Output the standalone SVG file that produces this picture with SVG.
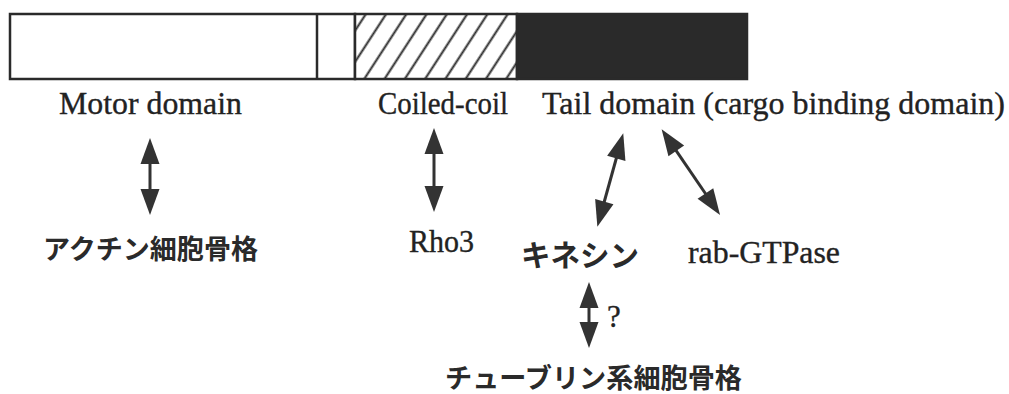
<svg xmlns="http://www.w3.org/2000/svg" width="1009" height="394" viewBox="0 0 1009 394">
  <style>
    .en { font-family: "Liberation Serif", "Times New Roman", serif; font-size: 31px; fill: #222; stroke: #222; stroke-width: 0.35; }
    .jp { font-family: "Noto Sans CJK JP", "Noto Sans CJK SC", sans-serif; font-weight: 700; fill: #2a2a2a; }
    .box { stroke: #2a2a2a; stroke-width: 2.5; }
    .conn { stroke: #333; stroke-width: 3; fill: none; marker-start: url(#head); marker-end: url(#head); }
  </style>
  <defs>
    <pattern id="hatch" patternUnits="userSpaceOnUse" width="17" height="17" patternTransform="rotate(33)">
      <rect width="17" height="17" fill="#fff"/>
      <line x1="8.5" y1="-1" x2="8.5" y2="18" stroke="#2a2a2a" stroke-width="2"/>
    </pattern>
    <marker id="head" markerUnits="userSpaceOnUse" markerWidth="27" markerHeight="20" refX="3" refY="9.5" orient="auto-start-reverse" overflow="visible">
      <path d="M0,0 L26,9.5 L0,19 z" fill="#333"/>
    </marker>
  </defs>

  <g id="bar">
    <rect id="motor-seg" class="box" x="10" y="14" width="345" height="65" fill="#fff"/>
    <line class="box" x1="317" y1="14" x2="317" y2="79"/>
    <rect id="coil-seg" class="box" x="355" y="14" width="162" height="65" fill="url(#hatch)"/>
    <rect id="tail-seg" class="box" x="517" y="14" width="230" height="65" fill="#2a2a2a"/>
  </g>

  <g id="connectors">
    <line class="conn" x1="150" y1="161" x2="150" y2="192"/>
    <line class="conn" x1="434" y1="151" x2="434" y2="189"/>
    <line class="conn" x1="617.1" y1="155.5" x2="603.5" y2="204.5"/>
    <line class="conn" x1="674.6" y1="148.3" x2="707.1" y2="196"/>
    <line class="conn" x1="589" y1="305" x2="589" y2="325"/>
  </g>

  <g id="motor-domain"><text class="en" x="59" y="114" textLength="183" lengthAdjust="spacingAndGlyphs">Motor domain</text></g>
  <g id="coiled-coil"><text class="en" x="378" y="114" textLength="130" lengthAdjust="spacingAndGlyphs">Coiled-coil</text></g>
  <g id="tail-domain"><text class="en" x="542" y="114" textLength="463" lengthAdjust="spacingAndGlyphs">Tail domain (cargo binding domain)</text></g>
  <g id="actin"><text class="jp" x="43" y="259" font-size="27" textLength="215" lengthAdjust="spacingAndGlyphs">アクチン細胞骨格</text></g>
  <g id="rho3"><text class="en" x="409" y="252" textLength="65" lengthAdjust="spacingAndGlyphs">Rho3</text></g>
  <g id="kinesin"><text class="jp" x="521" y="266" font-size="30" textLength="118" lengthAdjust="spacingAndGlyphs">キネシン</text></g>
  <g id="rab"><text class="en" x="688" y="263" textLength="152" lengthAdjust="spacingAndGlyphs">rab-GTPase</text></g>
  <g id="question"><text class="en" x="607" y="327" font-size="28">?</text></g>
  <g id="tubulin"><text class="jp" x="445" y="388" font-size="27" textLength="297" lengthAdjust="spacingAndGlyphs">チューブリン系細胞骨格</text></g>
</svg>
